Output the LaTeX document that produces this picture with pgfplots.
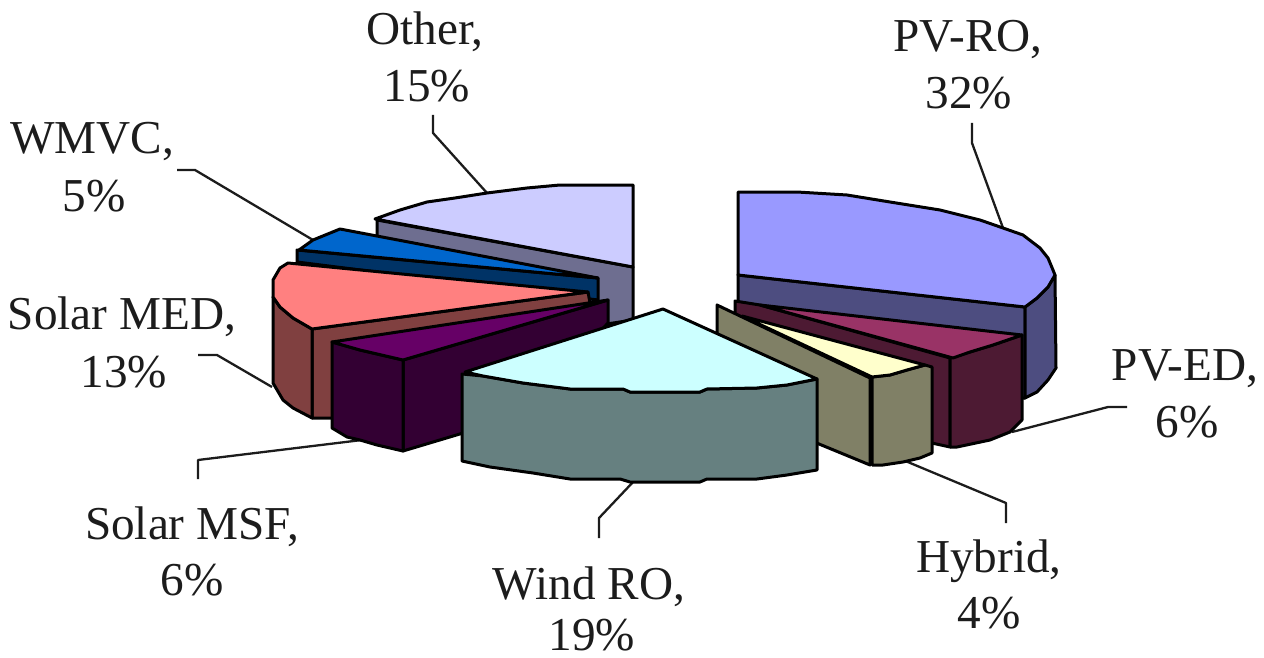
\documentclass[border=0pt]{standalone}
\usepackage{pgfplots}
\pgfplotsset{compat=1.18}
\usepackage{fontspec}
\setmainfont{Liberation Serif}

\definecolor{otherT}{HTML}{CCCCFF}\definecolor{otherS}{HTML}{6E6E90}
\definecolor{wmvcT}{HTML}{0066CC}\definecolor{wmvcS}{HTML}{003366}
\definecolor{medT}{HTML}{FF8080}\definecolor{medS}{HTML}{804040}
\definecolor{msfT}{HTML}{660066}\definecolor{msfS}{HTML}{330033}
\definecolor{windT}{HTML}{CCFFFF}\definecolor{windS}{HTML}{668080}
\definecolor{rooT}{HTML}{9999FF}\definecolor{rooS}{HTML}{4D4D80}
\definecolor{edT}{HTML}{993366}\definecolor{edS}{HTML}{4D1A33}
\definecolor{hybT}{HTML}{FFFFCC}\definecolor{hybS}{HTML}{808066}
\definecolor{ink}{HTML}{1C1C1C}

\pgfplotsset{
  face/.style={fill=#1,draw=black,line width=1.5pt,line join=round},
  leader/.style={draw=ink,line width=1.15pt,line join=round},
}
\tikzset{lab/.style={anchor=base,inner sep=0pt,text=ink,font=\fontsize{23.6}{28}\selectfont}}

\begin{document}
\begin{tikzpicture}
\clip (0,0) rectangle (632pt,329pt);
\begin{axis}[
  at={(0,0)},anchor=south west,
  scale only axis,width=632pt,height=329pt,
  xmin=0,xmax=1264,ymin=0,ymax=658,
  y dir=reverse,hide axis,clip=false]

% Leader lines from the labels to their slices
\addplot[leader] coordinates {(433,115)(433,133)(487,193)};
\addplot[leader] coordinates {(177,170)(195,170)(313,240)};
\addplot[leader] coordinates {(198,355)(217,355)(272,387)};
\addplot[leader] coordinates {(198,479)(198,460)(362,440)};
\addplot[leader] coordinates {(1127,407)(1108,407)(1012,432)};
\addplot[leader] coordinates {(1006,523)(1006,503)(903,460)};
\addplot[leader] coordinates {(599,538)(599,518)(634,481)};
\addplot[leader] coordinates {(972,123)(972,143)(1003,228)};

% Other
\addplot[face=otherS] coordinates {(377,220)(633,267)(633,320)(600,325)(377,245)} -- cycle;
\addplot[face=otherT] coordinates {(375,219)(400,210)(427,202)(455,198)(487,193)(527,188)(560,185)(633,185)(633,267)} -- cycle;

% WMVC
\addplot[face=wmvcS] coordinates {(297,250)(598,278)(598,300)(297,262)} -- cycle;
\addplot[face=wmvcT] coordinates {(299,250)(313,240)(340,229)(598,278)} -- cycle;

% Solar MED
\addplot[face=medS] coordinates {(312,329)(588,292)(590,303)(400,345)(400,418)(312,418)} -- cycle;
\addplot[face=medS] coordinates {(273,297)(280,307)(293,318)(312,329)(312,418)(293,408)(283,400)(273,383)} -- cycle;
\addplot[face=medT] coordinates {(288,263)(280,268)(273,280)(273,297)(280,307)(293,318)(312,329)(588,292)} -- cycle;

% Solar MSF
\addplot[face=msfS] coordinates {(403,360)(608,300)(608,323)(520,416)(403,451)} -- cycle;
\addplot[face=msfS] coordinates {(332,342)(360,350)(403,360)(403,451)(377,445)(360,440)(347,437)(332,428)} -- cycle;
\addplot[face=msfT] coordinates {(332,342)(608,300)(403,360)(360,350)} -- cycle;

% PV-RO
\addplot[face=rooS] coordinates {(738,275)(1025,307)(1025,398)(900,398)(738,320)} -- cycle;
\addplot[face=rooS] coordinates {(1025,307)(1037,298)(1048,287)(1055,275)(1056,368)(1048,380)(1037,392)(1025,398)} -- cycle;
\addplot[face=rooT] coordinates {(738,192)(797,192)(847,195)(890,202)(940,210)(980,220)(1003,228)(1023,235)(1040,248)(1048,258)(1053,270)(1055,275)(1048,287)(1037,298)(1025,307)(738,275)} -- cycle;

% PV-ED
\addplot[face=edS] coordinates {(735,301)(760,305)(950,358)(950,447)(735,400)} -- cycle;
\addplot[face=edS] coordinates {(950,358)(993,345)(1022,335)(1022,420)(1010,432)(990,440)(957,447)(950,447)} -- cycle;
\addplot[face=edT] coordinates {(760,305)(1022,335)(993,345)(970,352)(953,358)} -- cycle;

% Hybrid
\addplot[face=hybS] coordinates {(717,305)(870,378)(870,465)(717,402)} -- cycle;
\addplot[face=hybS] coordinates {(872,377)(890,375)(907,370)(925,365)(932,367)(932,453)(920,458)(903,462)(883,465)(872,465)} -- cycle;
\addplot[face=hybT] coordinates {(742,316)(925,365)(907,370)(890,375)(872,377)} -- cycle;

% Wind RO
\addplot[face=windS] coordinates {(462,374)(483,376)(523,383)(570,389)(623,389)(630,392)(700,392)(707,389)(757,388)(787,385)(817,379)(817,470)(787,475)(757,479)(707,479)(700,482)(630,482)(620,479)(570,479)(533,473)(490,467)(462,461)} -- cycle;
\addplot[face=windT] coordinates {(663,309)(817,379)(787,385)(757,388)(707,389)(700,392)(630,392)(623,389)(570,389)(523,383)(483,376)(465,372)} -- cycle;

% Slice labels
\node[lab] at (axis cs:425,45) {Other,};
\node[lab] at (axis cs:427,102) {15\%};
\node[lab] at (axis cs:92,154) {WMVC,};
\node[lab] at (axis cs:94,212) {5\%};
\node[lab] at (axis cs:122,329) {Solar MED,};
\node[lab] at (axis cs:124,387) {13\%};
\node[lab] at (axis cs:192,539) {Solar MSF,};
\node[lab] at (axis cs:192,595) {6\%};
\node[lab] at (axis cs:1185,380) {PV-ED,};
\node[lab] at (axis cs:1187,437) {6\%};
\node[lab] at (axis cs:989,572) {Hybrid,};
\node[lab] at (axis cs:989,628) {4\%};
\node[lab] at (axis cs:589,599) {Wind RO,};
\node[lab] at (axis cs:592,650) {19\%};
\node[lab] at (axis cs:968,52) {PV-RO,};
\node[lab] at (axis cs:969,109) {32\%};
\end{axis}
\end{tikzpicture}
\end{document}
